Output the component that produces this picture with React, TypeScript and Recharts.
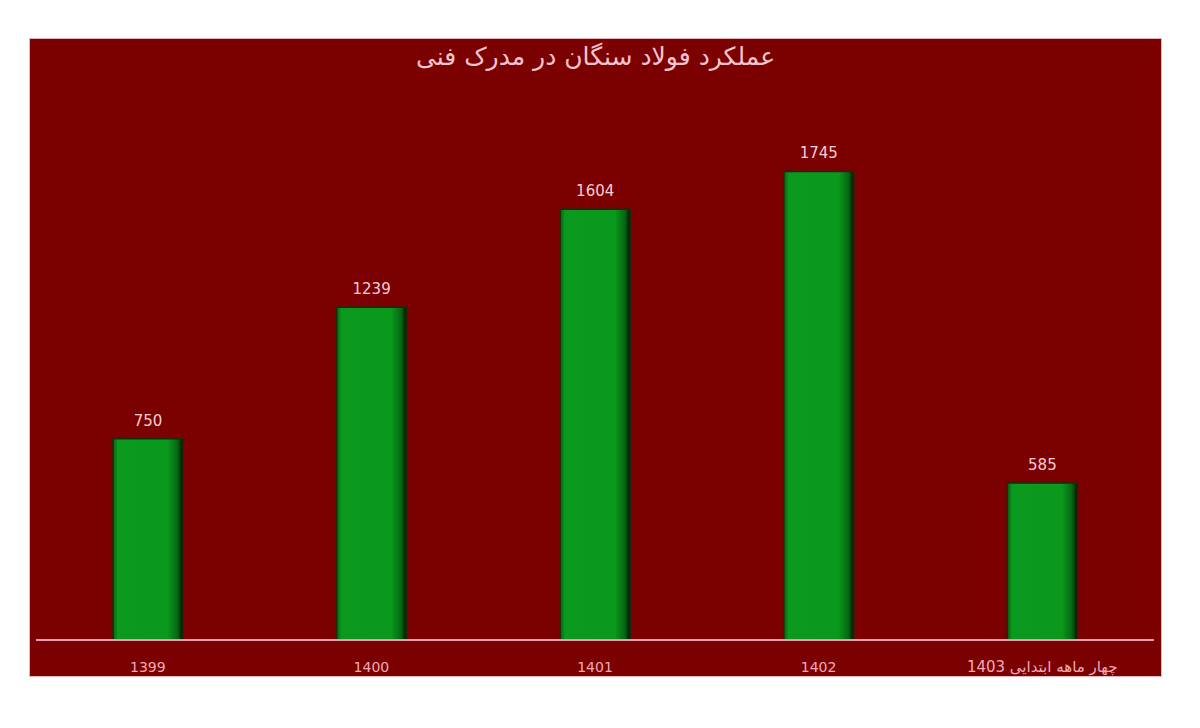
import { Bar, BarChart, LabelList, XAxis, YAxis } from "recharts";

const YEARS = ["1399", "1400", "1401", "1402", "چهار ماهه ابتدایی 1403"];
const OUTPUT = [750, 1239, 1604, 1745, 585];
const Y_TICKS = [0, 500, 1000, 1500, 2000];

const TITLE = "عملکرد فولاد سنگان در مدرک فنی";

const data = YEARS.map((year, i) => ({ year, value: OUTPUT[i] }));

const FRAME_BG = "#7b0000";
const PINK = "#f2a9b8";

function YearTick(props: any) {
  const { x, y, payload } = props;
  const isLast = payload.value.includes("1403");
  return (
    <text
      x={x}
      y={y}
      dy="0.35em"
      textAnchor="middle"
      fill={PINK}
      fontFamily="'DejaVu Sans', sans-serif"
      fontSize={isLast ? 15 : 14}
      direction={isLast ? "rtl" : "ltr"}
    >
      {payload.value}
    </text>
  );
}

export default function App() {
  return (
    <div
      style={{
        position: "absolute",
        left: 0,
        top: 0,
        width: 1200,
        height: 728,
        background: "#ffffff",
        overflow: "hidden"
      }}
    >
      <div
        style={{
          position: "absolute",
          left: 30,
          top: 39,
          width: 1131,
          height: 637,
          background: FRAME_BG,
          boxShadow: "0 0 0 1px #e7b5bd"
        }}
      >
        <div
          style={{
            position: "absolute",
            left: 0,
            top: 3,
            width: 1131,
            textAlign: "center",
            color: "#f6c4cf",
            fontFamily: "'DejaVu Sans', sans-serif",
            fontSize: 25,
            direction: "rtl"
          }}
        >
          {TITLE}
        </div>
        <BarChart
          width={1131}
          height={637}
          data={data}
          margin={{ top: 64, right: 7, bottom: 0, left: 6 }}
          barSize={70}
        >
          <defs>
            <linearGradient id="barFill" x1="0" y1="0" x2="1" y2="0">
              <stop offset="0%" stopColor="#0b5f12" />
              <stop offset="7%" stopColor="#0a9a1e" />
              <stop offset="78%" stopColor="#0a981d" />
              <stop offset="92%" stopColor="#066812" />
              <stop offset="100%" stopColor="#021405" />
            </linearGradient>
          </defs>
          <XAxis
            dataKey="year"
            axisLine={{ stroke: "#e99bb0", strokeWidth: 2 }}
            tickLine={false}
            height={36}
            tick={<YearTick />}
            tickMargin={21}
            interval={0}
          />
          <YAxis hide domain={[0, 2000]} ticks={Y_TICKS} />
          <Bar dataKey="value" fill="url(#barFill)" stroke="#1c2a0c" strokeWidth={1.5} isAnimationActive={false}>
            <LabelList
              dataKey="value"
              position="top"
              offset={13}
              fill="#f8cdd6"
              fontSize={15}
              fontFamily="'DejaVu Sans', sans-serif"
            />
          </Bar>
        </BarChart>
      </div>
    </div>
  );
}
